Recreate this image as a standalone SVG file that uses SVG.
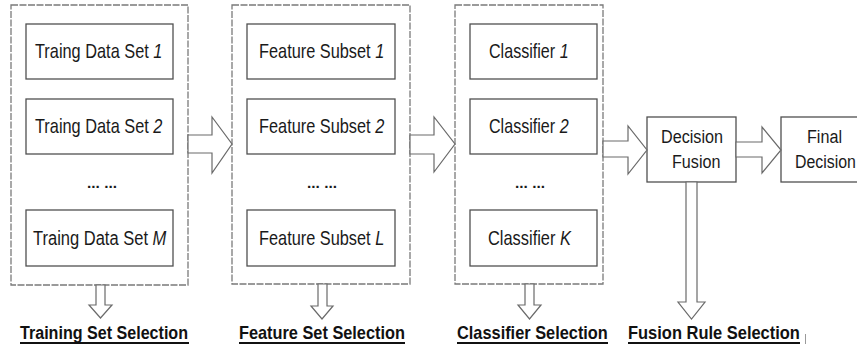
<svg xmlns="http://www.w3.org/2000/svg" width="857" height="347" viewBox="0 0 857 347">
  <style>
    .stage { fill: #ffffff; stroke: #7a7a7a; stroke-width: 1.3; stroke-dasharray: 7 1.5; }
    .box { fill: #ffffff; stroke: #505050; stroke-width: 1.3; }
    .arrow { fill: #ffffff; stroke: #6a6a6a; stroke-width: 1.2; stroke-linejoin: miter; }
    .lbl { font-family: "Liberation Sans", Arial, sans-serif; font-size: 20px; fill: #1a1a1a; }
    .num { font-style: italic; }
    .big { font-size: 19px; }
    .dots { font-family: "Liberation Sans", Arial, sans-serif; font-size: 14px; font-weight: bold; fill: #1a1a1a; }
    .sel { font-family: "Liberation Sans", Arial, sans-serif; font-size: 19px; font-weight: bold; fill: #111111; }
    .uline { fill: #111111; }
  </style>

  <!-- Stage 1: training data sets -->
  <g id="training-stage">
    <rect class="stage" x="11" y="5" width="177" height="280"/>
    <g id="train-1">
      <rect class="box" x="26" y="24" width="147" height="55"/>
      <text class="lbl" transform="translate(35,58) scale(0.817,1)">Traing Data Set <tspan class="num">1</tspan></text>
    </g>
    <g id="train-2">
      <rect class="box" x="26" y="99" width="147" height="55"/>
      <text class="lbl" transform="translate(35,133) scale(0.817,1)">Traing Data Set <tspan class="num">2</tspan></text>
    </g>
    <text class="dots" x="87" y="188" textLength="30" lengthAdjust="spacingAndGlyphs">... ...</text>
    <g id="train-m">
      <rect class="box" x="26" y="210" width="147" height="56"/>
      <text class="lbl" transform="translate(33,245) scale(0.826,1)">Traing Data Set <tspan class="num">M</tspan></text>
    </g>
  </g>

  <!-- Stage 2: feature subsets -->
  <g id="feature-stage">
    <rect class="stage" x="232" y="5" width="178" height="279"/>
    <g id="feature-1">
      <rect class="box" x="247" y="24" width="148" height="55"/>
      <text class="lbl" transform="translate(259,58) scale(0.817,1)">Feature Subset <tspan class="num">1</tspan></text>
    </g>
    <g id="feature-2">
      <rect class="box" x="247" y="99" width="148" height="55"/>
      <text class="lbl" transform="translate(259,133) scale(0.817,1)">Feature Subset <tspan class="num">2</tspan></text>
    </g>
    <text class="dots" x="307" y="188" textLength="30" lengthAdjust="spacingAndGlyphs">... ...</text>
    <g id="feature-l">
      <rect class="box" x="247" y="210" width="148" height="56"/>
      <text class="lbl" transform="translate(259,245) scale(0.817,1)">Feature Subset <tspan class="num">L</tspan></text>
    </g>
  </g>

  <!-- Stage 3: classifiers -->
  <g id="classifier-stage">
    <rect class="stage" x="455" y="5" width="148" height="279"/>
    <g id="classifier-1">
      <rect class="box" x="470" y="24" width="127" height="55"/>
      <text class="lbl" transform="translate(489,58) scale(0.805,1)">Classifier <tspan class="num">1</tspan></text>
    </g>
    <g id="classifier-2">
      <rect class="box" x="470" y="99" width="127" height="55"/>
      <text class="lbl" transform="translate(489,133) scale(0.805,1)">Classifier <tspan class="num">2</tspan></text>
    </g>
    <text class="dots" x="515" y="188" textLength="30" lengthAdjust="spacingAndGlyphs">... ...</text>
    <g id="classifier-k">
      <rect class="box" x="470" y="210" width="127" height="56"/>
      <text class="lbl" transform="translate(488,245) scale(0.821,1)">Classifier <tspan class="num">K</tspan></text>
    </g>
  </g>

  <!-- Fusion and final output -->
  <g id="decision-fusion">
    <rect class="box" x="647" y="117" width="89" height="65"/>
    <text class="lbl big" transform="translate(661,143) scale(0.852,1)">Decision</text>
    <text class="lbl big" transform="translate(672,168) scale(0.85,1)">Fusion</text>
  </g>
  <g id="final-decision">
    <rect class="box" x="781" y="117" width="89" height="65"/>
    <text class="lbl big" transform="translate(807,143) scale(0.85,1)">Final</text>
    <text class="lbl big" transform="translate(795,168) scale(0.836,1)">Decision</text>
  </g>

  <!-- Hollow block arrows -->
  <g id="connectors">
    <polygon class="arrow" points="188,135 212,135 212,117 232,144 212,173 212,153 188,153"/>
    <polygon class="arrow" points="410,135 434,135 434,117 455,144 434,172 434,154 410,154"/>
    <polygon class="arrow" points="603,141 628,141 628,126 647,150 628,174 628,157 603,157"/>
    <polygon class="arrow" points="736,142 762,142 762,127 781,150 762,173 762,157 736,157"/>
    <polygon class="arrow" points="96,285 96,305 89,305 100.5,318 112,305 105,305 105,285"/>
    <polygon class="arrow" points="318,284 318,306 311,306 322,319 333,306 327,306 327,284"/>
    <polygon class="arrow" points="525,284 525,305 518,305 529.5,319 541,305 534,305 534,284"/>
    <polygon class="arrow" points="686,182 686,302 678,302 691.5,319 705,302 697,302 697,182"/>
  </g>

  <!-- Selection captions -->
  <g id="captions">
    <text class="sel" transform="translate(20,339) scale(0.847,1)">Training Set Selection</text>
    <rect class="uline" x="20" y="342" width="169" height="2"/>
    <text class="sel" transform="translate(239,339) scale(0.859,1)">Feature Set Selection</text>
    <rect class="uline" x="239" y="342" width="166" height="2"/>
    <text class="sel" transform="translate(457,339) scale(0.861,1)">Classifier Selection</text>
    <rect class="uline" x="457" y="342" width="151" height="2"/>
    <text class="sel" transform="translate(628,339) scale(0.867,1)">Fusion Rule Selection</text>
    <rect class="uline" x="628" y="342" width="172" height="2"/>
    <line x1="805.5" y1="334" x2="805.5" y2="344" stroke="#9a9a9a" stroke-width="1"/>
  </g>
</svg>
